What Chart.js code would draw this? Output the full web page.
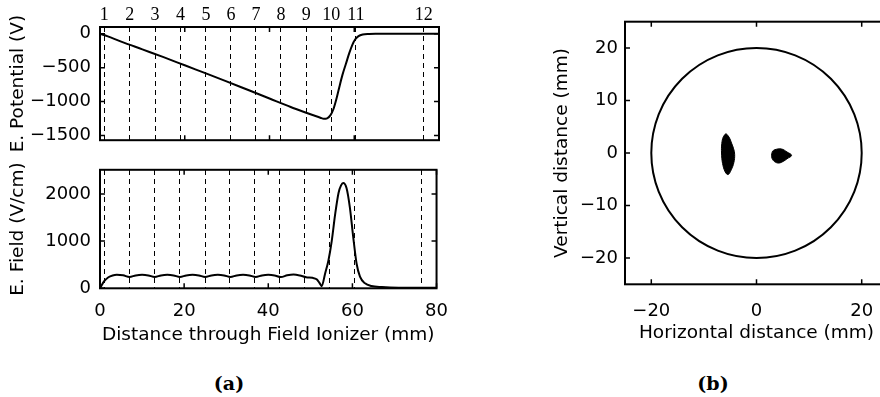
<!DOCTYPE html>
<html>
<head>
<meta charset="utf-8">
<script src="https://cdn.jsdelivr.net/npm/chart.js@4.4.0/dist/chart.umd.min.js"></script>
<style>
  html, body { margin: 0; padding: 0; background: #fff; }
  #wrap { position: relative; width: 880px; height: 397px; overflow: hidden; }
  canvas { position: absolute; }
  .cap { position: absolute; width: 100px; text-align: center; font-family: "DejaVu Serif", serif; font-weight: bold; font-size: 19px; color: #000; }
</style>
</head>
<body>
<div id="wrap">
  <canvas id="potentialChart" width="460" height="160" style="left:0px;top:0px"></canvas>
  <canvas id="fieldChart" width="460" height="200" style="left:0px;top:150px"></canvas>
  <canvas id="planeChart" width="360" height="345" style="left:540px;top:0px"></canvas>
  <div class="cap" style="left:179px;top:372px">(a)</div>
  <div class="cap" style="left:663px;top:372px">(b)</div>
</div>
<script>
// electrode positions (mm) and their numbers on the top axis
const electrodePos = [1, 7, 13, 19, 25, 30.9, 36.8, 42.7, 48.7, 54.6, 60.4, 76.4];
const electrodeLabels = ['1', '2', '3', '4', '5', '6', '7', '8', '9', '10', '11', '12'];

// tick labels
const distTicks = [0, 20, 40, 60, 80];
const potentialTicks = [-1500, -1000, -500, 0];
const fieldTicks = [0, 1000, 2000];
const planeTicksX = [-20, 0, 20];
const planeTicksY = [-20, -10, 0, 10, 20];

// electric potential along the axis
const potDist = [0, 1, 2, 5, 10, 15, 20, 25, 30, 35, 40, 45, 48, 50, 52, 52.8, 53.6, 54.4, 55.1, 55.8, 56.5, 57.2, 58, 58.8, 59.5, 60.2, 61, 62, 63.5, 65, 70, 80];
const potVolts = [0, -18, -42, -115, -230, -345, -465, -585, -705, -830, -955, -1080, -1150, -1195, -1238, -1255, -1248, -1200, -1110, -960, -780, -610, -450, -290, -170, -85, -35, -10, -2, 0, 0, 0];

// electric field along the axis
const fieldDist = [0, 1, 2, 3, 4, 5.5, 7, 8.5, 10, 11.5, 13, 14.5, 16, 17.5, 19, 20.5, 22, 23.5, 25, 26.5, 28, 29.5, 31, 32.5, 34, 35.5, 37, 38.5, 40, 41.5, 43, 44.5, 46, 47.5, 49, 50.5, 51.5, 52.2, 52.7, 53.5, 54.3, 55.1, 55.9, 56.7, 57.3, 57.8, 58.6, 59.4, 60.2, 61, 61.8, 63, 64.5, 67, 71, 80];
const fieldVcm = [0, 150, 235, 272, 285, 275, 240, 273, 285, 273, 240, 273, 285, 273, 240, 273, 285, 273, 240, 273, 285, 273, 240, 273, 285, 273, 240, 273, 285, 273, 238, 275, 292, 272, 233, 222, 190, 110, 45, 310, 590, 1010, 1570, 2020, 2180, 2230, 2125, 1710, 1080, 520, 245, 105, 48, 25, 12, 10];

// beam spots on the detector plane (mm)
const apertureRadius = 20;
const leftSpotX = [-5.8, -5.2, -4.75, -4.35, -4.15, -4.3, -4.8, -5.4, -5.95, -6.45, -6.65, -6.6, -6.3, -5.8];
const leftSpotY = [3.7, 3.0, 1.9, 0.8, -0.3, -1.8, -3.2, -4.1, -3.6, -2.0, 0, 1.8, 3.1, 3.7];
const rightSpotX = [3.05, 3.5, 4.76, 5.8, 6.67, 5.8, 5.08, 4.1, 3.17, 2.86, 3.05];
const rightSpotY = [0.35, 0.64, 0.76, 0.19, -0.45, -1.1, -1.6, -1.91, -1.4, -0.45, 0.35];

Chart.defaults.font.family = 'DejaVu Sans';
Chart.defaults.color = '#000';

const pts = (xs, ys) => xs.map((x, i) => ({x: x, y: ys[i]}));
const fmt = v => (v < 0 ? '\u2212' + Math.abs(v) : String(v));
const setTicks = arr => scale => { scale.ticks = arr.map(v => ({value: v})); };

// matlab style box with inward ticks
const matlabBox = {
  id: 'matlabBox',
  afterDraw(chart, args, opts) {
    const {ctx, chartArea: a, scales} = chart;
    const len = 5;
    ctx.save();
    ctx.strokeStyle = '#000';
    ctx.lineWidth = 1.5;
    ctx.beginPath();
    (opts.xTicks || []).forEach(v => {
      const px = scales.x.getPixelForValue(v);
      ctx.moveTo(px, a.bottom); ctx.lineTo(px, a.bottom - len);
      ctx.moveTo(px, a.top); ctx.lineTo(px, a.top + len);
    });
    (opts.yTicks || []).forEach(v => {
      const py = scales.y.getPixelForValue(v);
      ctx.moveTo(a.left, py); ctx.lineTo(a.left + len, py);
      ctx.moveTo(a.right, py); ctx.lineTo(a.right - len, py);
    });
    ctx.stroke();
    ctx.lineWidth = 2;
    ctx.strokeRect(a.left, a.top, a.right - a.left, a.bottom - a.top);
    ctx.restore();
  }
};

// aperture circle on the detector plane
const aperture = {
  id: 'aperture',
  afterDatasetsDraw(chart, args, opts) {
    if (!opts.radius) return;
    const {ctx, scales} = chart;
    const cx = scales.x.getPixelForValue(0);
    const cy = scales.y.getPixelForValue(0);
    const rx = scales.x.getPixelForValue(opts.radius) - cx;
    const ry = cy - scales.y.getPixelForValue(opts.radius);
    ctx.save();
    ctx.strokeStyle = '#000';
    ctx.lineWidth = 2;
    ctx.beginPath();
    ctx.ellipse(cx, cy, rx, ry, 0, 0, Math.PI * 2);
    ctx.stroke();
    ctx.restore();
  }
};

const electrodeGrid = {
  display: true, drawOnChartArea: true, drawTicks: false,
  color: '#000', lineWidth: 1, borderDash: [5, 4]
};

const lineStyle = {
  borderColor: '#000', borderWidth: 2, pointRadius: 0, fill: false,
  cubicInterpolationMode: 'monotone'
};

const common = {
  responsive: false,
  animation: false,
  events: [],
  devicePixelRatio: 1,
  plugins: {legend: {display: false}, tooltip: {enabled: false}}
};

// (a) top: potential
new Chart(document.getElementById('potentialChart'), {
  type: 'line',
  data: {datasets: [Object.assign({data: pts(potDist, potVolts)}, lineStyle)]},
  options: Object.assign({}, common, {
    layout: {padding: {left: 0, right: 21, top: 0, bottom: 14}},
    plugins: Object.assign({}, common.plugins, {matlabBox: {xTicks: distTicks, yTicks: potentialTicks}}),
    scales: {
      x: {type: 'linear', min: 0, max: 80, display: false},
      xe: {
        type: 'linear', position: 'top', min: 0, max: 80,
        afterBuildTicks: setTicks(electrodePos),
        afterFit: s => { s.height = 27; },
        grid: electrodeGrid,
        border: {display: false, dash: [5, 4]},
        ticks: {autoSkip: false, maxRotation: 0, padding: 1,
          font: {family: 'Liberation Serif', size: 18},
          callback: (v, i) => electrodeLabels[i]}
      },
      y: {
        min: -1570, max: 100,
        afterBuildTicks: setTicks(potentialTicks),
        afterFit: s => { s.width = 100; },
        grid: {display: false, drawTicks: false},
        border: {display: false},
        ticks: {font: {size: 18}, padding: 9, callback: fmt},
        title: {display: true, text: 'E. Potential (V)', font: {size: 18.5}, padding: {top: 7, bottom: 0}}
      }
    }
  }),
  plugins: [matlabBox]
});

// (a) bottom: field
new Chart(document.getElementById('fieldChart'), {
  type: 'line',
  data: {datasets: [Object.assign({data: pts(fieldDist, fieldVcm)}, lineStyle)]},
  options: Object.assign({}, common, {
    layout: {padding: {left: 0, right: 21, top: 18.3, bottom: 0}},
    plugins: Object.assign({}, common.plugins, {matlabBox: {xTicks: distTicks, yTicks: fieldTicks}}),
    scales: {
      x: {
        type: 'linear', min: 0, max: 80,
        afterBuildTicks: setTicks(distTicks),
        afterFit: s => { s.height = 61.7; },
        grid: {display: false, drawTicks: false},
        border: {display: false},
        ticks: {font: {size: 18}, padding: 12, maxRotation: 0, autoSkip: false},
        title: {display: true, text: 'Distance through Field Ionizer (mm)', font: {size: 18.5}, padding: {top: 0, bottom: 4}}
      },
      xe: {
        type: 'linear', position: 'top', min: 0, max: 80,
        afterBuildTicks: setTicks(electrodePos),
        afterFit: s => { s.height = 0; },
        grid: electrodeGrid,
        border: {display: false, dash: [5, 4]},
        ticks: {display: false}
      },
      y: {
        min: 0, max: 2510,
        afterBuildTicks: setTicks(fieldTicks),
        afterFit: s => { s.width = 100; },
        grid: {display: false, drawTicks: false},
        border: {display: false},
        ticks: {font: {size: 18}, padding: 9, callback: fmt},
        title: {display: true, text: 'E. Field (V/cm)', font: {size: 18.5}, padding: {top: 7, bottom: 0}}
      }
    }
  }),
  plugins: [matlabBox]
});

// (b) detector plane
const spotStyle = {borderColor: '#000', backgroundColor: '#000', borderWidth: 1, pointRadius: 0, fill: 'shape', tension: 0.4};
new Chart(document.getElementById('planeChart'), {
  type: 'line',
  data: {datasets: [
    Object.assign({data: pts(leftSpotX, leftSpotY)}, spotStyle),
    Object.assign({data: pts(rightSpotX, rightSpotY)}, spotStyle)
  ]},
  options: Object.assign({}, common, {
    layout: {padding: {left: 0, right: 12, top: 21.7, bottom: 0}},
    plugins: Object.assign({}, common.plugins, {
      matlabBox: {xTicks: planeTicksX, yTicks: planeTicksY},
      aperture: {radius: apertureRadius}
    }),
    scales: {
      x: {
        type: 'linear', min: -25, max: 25,
        afterBuildTicks: setTicks(planeTicksX),
        afterFit: s => { s.height = 60.7; },
        grid: {display: false, drawTicks: false},
        border: {display: false},
        ticks: {font: {size: 18}, padding: 16, maxRotation: 0, autoSkip: false, callback: fmt},
        title: {display: true, text: 'Horizontal distance (mm)', font: {size: 18.5}, padding: {top: 0, bottom: 1}}
      },
      y: {
        type: 'linear', min: -25, max: 25,
        afterBuildTicks: setTicks(planeTicksY),
        afterFit: s => { s.width = 85; },
        grid: {display: false, drawTicks: false},
        border: {display: false},
        ticks: {font: {size: 18}, padding: 7, callback: fmt},
        title: {display: true, text: 'Vertical distance (mm)', font: {size: 18.5}, padding: {top: 11, bottom: 0}}
      }
    }
  }),
  plugins: [matlabBox, aperture]
});
</script>
</body>
</html>
